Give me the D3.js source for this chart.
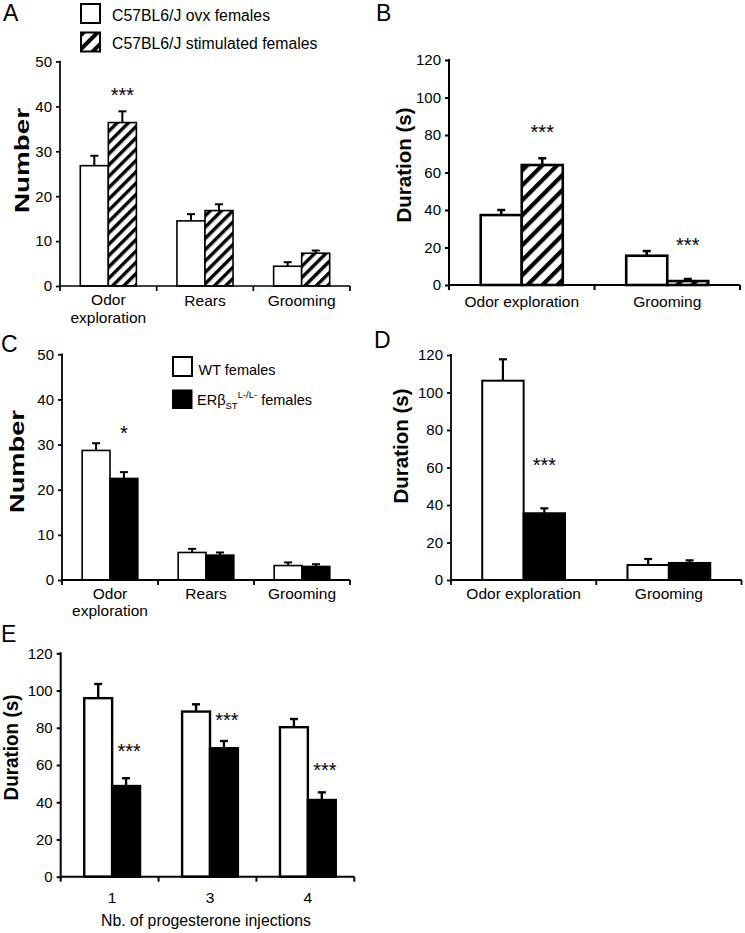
<!DOCTYPE html>
<html>
<head>
<meta charset="utf-8">
<script src="https://cdn.jsdelivr.net/npm/d3@7"></script>
<style>
  body { margin: 0; background: #fff; }
  text { font-family: 'Liberation Sans', Arial, Helvetica, sans-serif; fill: #000; }
</style>
</head>
<body>
<script>

// ---- data ----
var catsA = ["Odor\nexploration", "Rears", "Grooming"];
var ovxA = [26.8, 14.5, 4.4];
var ovxErrA = [2.2, 1.5, 0.9];
var stimA = [36.4, 16.8, 7.3];
var stimErrA = [2.5, 1.4, 0.6];
var sigA = ["***", null, null];
var sigAtA = [43.6, 0, 0];

var catsB = ["Odor exploration", "Grooming"];
var ovxB = [37.3, 15.6];
var ovxErrB = [2.7, 2.5];
var stimB = [64.0, 2.1];
var stimErrB = [3.6, 1.1];
var sigB = ["***", "***"];
var sigAtB = [83.9, 23.6];

var catsC = ["Odor\nexploration", "Rears", "Grooming"];
var wtC = [28.7, 6.1, 3.2];
var wtErrC = [1.6, 0.8, 0.7];
var koC = [22.5, 5.5, 3.0];
var koErrC = [1.4, 0.6, 0.5];
var sigC = ["*", null, null];
var sigAtC = [33.6, 0, 0];

var catsD = ["Odor exploration", "Grooming"];
var wtD = [106.3, 8.0];
var wtErrD = [11.4, 3.2];
var koD = [35.6, 9.1];
var koErrD = [2.6, 1.4];
var sigD = ["***", null];
var sigAtD = [63.6, 0];

var catsE = ["1", "3", "4"];
var wtE = [95.9, 88.7, 80.3];
var wtErrE = [7.6, 3.9, 4.4];
var koE = [48.7, 69.0, 41.2];
var koErrE = [4.2, 3.9, 4.1];
var sigE = ["***", "***", "***"];
var sigAtE = [69.9, 86.4, 59.5];

var ticksNumber = d3.range(0, 51, 10);
var ticksDuration = d3.range(0, 121, 20);


var svg = d3.select("body").append("svg")
	.attr("width", 745)
	.attr("height", 933);

var defs = svg.append("defs");

function makeHatch(id, period, thick)
{
	var p = defs.append("pattern")
		.attr("id", id)
		.attr("patternUnits", "userSpaceOnUse")
		.attr("width", period)
		.attr("height", period)
		.attr("patternTransform", "rotate(45)");
	p.append("rect").attr("width", period).attr("height", period).attr("fill", "#fff");
	p.append("rect").attr("width", thick).attr("height", period).attr("fill", "#000");
}

makeHatch("hatchA", 8, 3.4);
makeHatch("hatchB", 10.6, 4.2);
makeHatch("hatchL", 10, 4);


function drawPanel(c)
{
	var g = svg.append("g");
	var dx = c.barDx || 0;

	var y = d3.scaleLinear().domain([0, c.max]).range([c.y0, c.yTop]);
	var x = d3.scaleBand().domain(c.cats).range([c.x0, c.x1])
		.paddingInner(c.pad).paddingOuter(c.pad / 2);
	var xs = d3.scaleBand().domain([0, 1]).range([0, x.bandwidth()]);

	var series = [
		{v: c.s1, e: c.e1, fill: "#fff"},
		{v: c.s2, e: c.e2, fill: c.fill2}
	];

	// bars
	series.forEach(function(s, si)
	{
		g.selectAll(null).data(c.cats).enter().append("rect")
			.attr("x", function(d) { return x(d) + xs(si) + dx; })
			.attr("y", function(d, i) { return y(s.v[i]); })
			.attr("width", xs.bandwidth())
			.attr("height", function(d, i) { return y(0) - y(s.v[i]); })
			.attr("fill", s.fill)
			.attr("stroke", "#000")
			.attr("stroke-width", c.bw);
	});

	// error bars (upper only)
	series.forEach(function(s, si)
	{
		c.cats.forEach(function(d, i)
		{
			var cx = x(d) + xs(si) + xs.bandwidth() / 2 + dx;
			var top = y(s.v[i] + s.e[i]);
			g.append("line")
				.attr("x1", cx).attr("x2", cx)
				.attr("y1", y(s.v[i])).attr("y2", top)
				.attr("stroke", "#000").attr("stroke-width", c.ew);
			g.append("line")
				.attr("x1", cx - 4).attr("x2", cx + 4)
				.attr("y1", top).attr("y2", top)
				.attr("stroke", "#000").attr("stroke-width", c.ew);
		});
	});

	// significance marks
	c.cats.forEach(function(d, i)
	{
		if (!c.sig[i])
			return;
		g.append("text")
			.attr("x", x(d) + xs(1) + xs.bandwidth() / 2 + dx + (c.sigDx || 0))
			.attr("y", y(c.sigAt[i]) + 11.5)
			.attr("text-anchor", "middle")
			.style("font-size", "20px")
			.text(c.sig[i]);
	});

	// y axis
	var yAxis = g.append("g")
		.attr("transform", "translate(" + c.x0 + ",0)")
		.call(d3.axisLeft(y).tickValues(c.ticks).tickSize(4).tickPadding(4).tickSizeOuter(0));
	yAxis.select(".domain").remove();
	yAxis.selectAll(".tick line").attr("stroke", "#000").attr("stroke-width", c.aw);
	yAxis.selectAll(".tick text")
		.style("font-size", "15px")
		.style("font-family", "'Liberation Sans', Arial, sans-serif")
		.attr("fill", "#000");

	g.append("line")
		.attr("x1", c.x0).attr("x2", c.x0)
		.attr("y1", c.yTop - c.aw / 2).attr("y2", c.y0 + 5)
		.attr("stroke", "#000").attr("stroke-width", c.aw);

	// x axis with ticks between categories
	g.append("line")
		.attr("x1", c.x0).attr("x2", c.x1)
		.attr("y1", c.y0).attr("y2", c.y0)
		.attr("stroke", "#000").attr("stroke-width", c.aw);

	var bounds = c.cats.map(function(d) { return x(d) - x.step() * x.paddingInner() / 2; });
	bounds.push(c.x1);
	g.selectAll(null).data(bounds.slice(1)).enter().append("line")
		.attr("x1", function(d) { return d; })
		.attr("x2", function(d) { return d; })
		.attr("y1", c.y0).attr("y2", c.y0 + 5)
		.attr("stroke", "#000").attr("stroke-width", c.aw);

	// category labels
	c.cats.forEach(function(d)
	{
		var cx = x(d) + x.bandwidth() / 2 + dx;
		var lines = d.split("\n");
		var t = g.append("text")
			.attr("x", cx)
			.attr("y", c.y0 + c.labDy - (lines.length > 1 ? 0.5 : 0))
			.attr("text-anchor", "middle")
			.style("font-size", "15.5px");
		lines.forEach(function(line, li)
		{
			t.append("tspan")
				.attr("x", cx)
				.attr("dy", li == 0 ? 0 : 17.5)
				.text(line);
		});
	});

	// y label
	g.append("text")
		.attr("transform", "translate(" + c.ylx + "," + c.yly + ") rotate(-90)")
		.attr("text-anchor", "middle")
		.attr("textLength", c.ylLen)
		.attr("lengthAdjust", "spacingAndGlyphs")
		.style("font-size", "21px")
		.style("font-weight", "bold")
		.text(c.ylabel);

	// panel letter
	g.append("text")
		.attr("x", c.lx).attr("y", c.ly)
		.style("font-size", "23px")
		.text(c.letter);

	return g;
}


drawPanel({
	cats: catsA, s1: ovxA, e1: ovxErrA, s2: stimA, e2: stimErrA, fill2: "url(#hatchA)",
	sig: sigA, sigAt: sigAtA,
	x0: 60, x1: 350, y0: 286, yTop: 61.5, max: 50, ticks: ticksNumber,
	pad: 0.42, bw: 1.6, ew: 2, aw: 1.7, labDy: 19.5,
	ylabel: "Number", ylx: 29, yly: 160.5, ylLen: 105,
	letter: "A", lx: 3, ly: 21
});

drawPanel({
	cats: catsB, s1: ovxB, e1: ovxErrB, s2: stimB, e2: stimErrB, fill2: "url(#hatchB)",
	sig: sigB, sigAt: sigAtB,
	x0: 449, x1: 740, y0: 285, yTop: 60, max: 120, ticks: ticksDuration,
	pad: 0.436, bw: 2.6, ew: 2.5, aw: 2, labDy: 22,
	ylabel: "Duration (s)", ylx: 411, yly: 165, ylLen: 115,
	letter: "B", lx: 376, ly: 21
});

drawPanel({
	cats: catsC, s1: wtC, e1: wtErrC, s2: koC, e2: koErrC, fill2: "#000",
	sig: sigC, sigAt: sigAtC,
	x0: 62, x1: 350, y0: 580, yTop: 354.3, max: 50, ticks: ticksNumber,
	pad: 0.42, bw: 1.6, ew: 2, aw: 1.8, labDy: 19,
	ylabel: "Number", ylx: 23.5, yly: 461.5, ylLen: 103,
	letter: "C", lx: 1, ly: 352
});

drawPanel({
	cats: catsD, s1: wtD, e1: wtErrD, s2: koD, e2: koErrD, fill2: "#000",
	sig: sigD, sigAt: sigAtD,
	x0: 451, x1: 741.5, y0: 580, yTop: 355, max: 120, ticks: ticksDuration,
	pad: 0.43, bw: 2, ew: 2.2, aw: 1.8, labDy: 19,
	ylabel: "Duration (s)", ylx: 408, yly: 446, ylLen: 115,
	letter: "D", lx: 374, ly: 348
});

drawPanel({
	cats: catsE, s1: wtE, e1: wtErrE, s2: koE, e2: koErrE, fill2: "#000",
	sig: sigE, sigAt: sigAtE, barDx: 2.5, sigDx: 3,
	x0: 60.7, x1: 354.3, y0: 876.7, yTop: 653.3, max: 120, ticks: ticksDuration,
	pad: 0.43, bw: 2.4, ew: 2.4, aw: 2, labDy: 26.5,
	ylabel: "Duration (s)", ylx: 18, yly: 747.5, ylLen: 106,
	letter: "E", lx: 1, ly: 642
});

svg.append("text")
	.attr("x", 206).attr("y", 926)
	.attr("text-anchor", "middle")
	.style("font-size", "15.8px")
	.text("Nb. of progesterone injections");


// legend A
var legA = svg.append("g");
legA.append("rect").attr("x", 81).attr("y", 4).attr("width", 19).attr("height", 19)
	.attr("fill", "#fff").attr("stroke", "#000").attr("stroke-width", 2);
legA.append("text").attr("x", 112).attr("y", 20.5).style("font-size", "15.8px")
	.text("C57BL6/J ovx females");
legA.append("rect").attr("x", 81).attr("y", 32.5).attr("width", 19).attr("height", 19)
	.attr("fill", "url(#hatchL)").attr("stroke", "#000").attr("stroke-width", 2);
legA.append("text").attr("x", 112).attr("y", 48.5).style("font-size", "15.8px")
	.text("C57BL6/J stimulated females");

// legend C
var legC = svg.append("g");
legC.append("rect").attr("x", 173).attr("y", 357).attr("width", 19).attr("height", 19)
	.attr("fill", "#fff").attr("stroke", "#000").attr("stroke-width", 2);
legC.append("text").attr("x", 198.5).attr("y", 374.5).style("font-size", "14.5px")
	.text("WT females");
legC.append("rect").attr("x", 172).attr("y", 389.5).attr("width", 20.5).attr("height", 19.5)
	.attr("fill", "#000");
var erText = legC.append("text").attr("x", 197).attr("y", 405).style("font-size", "14.5px");
erText.append("tspan").text("ERβ");
erText.append("tspan").attr("dy", 3.5).style("font-size", "9.5px").text("ST");
erText.append("tspan").attr("dy", -11).style("font-size", "9.5px").text("L-/L-");
erText.append("tspan").attr("dy", 7.5).text(" females");

</script>
</body>
</html>
